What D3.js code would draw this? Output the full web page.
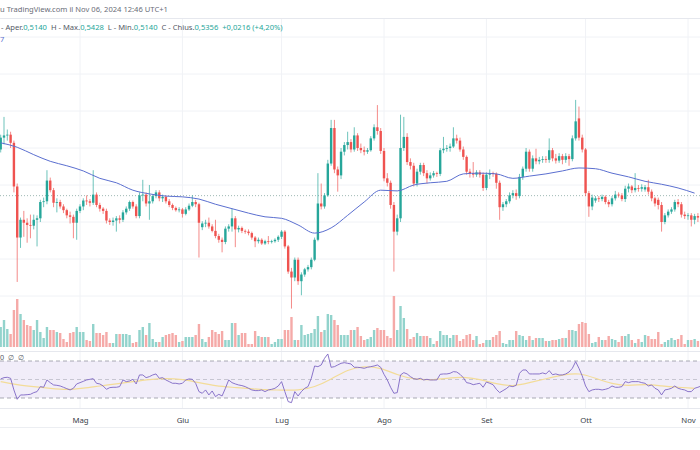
<!DOCTYPE html>
<html><head><meta charset="utf-8">
<script src="https://cdn.jsdelivr.net/npm/d3@7"></script>
<style>
html,body{margin:0;padding:0;background:#fff;}
svg{display:block;}
text{font-family:"Noto Sans","Open Sans",sans-serif;}
</style></head>
<body>
<script>
// ---- DATA (XRP/USD daily) ----
const firstDay = "2024-04-07";
const opens = [0.598,0.614,0.617,0.618,0.607,0.548,0.479,0.503,0.499,0.496,0.495,0.503,0.505,0.527,0.528,0.556,0.543,0.526,0.527,0.521,0.516,0.509,0.507,0.499,0.515,0.521,0.529,0.528,0.526,0.537,0.523,0.518,0.515,0.502,0.500,0.502,0.505,0.503,0.513,0.518,0.527,0.521,0.508,0.536,0.537,0.525,0.528,0.535,0.540,0.532,0.534,0.528,0.523,0.519,0.516,0.517,0.511,0.517,0.522,0.527,0.524,0.493,0.498,0.499,0.494,0.488,0.481,0.476,0.473,0.491,0.494,0.505,0.490,0.492,0.488,0.487,0.485,0.479,0.474,0.476,0.471,0.474,0.473,0.474,0.476,0.480,0.487,0.467,0.433,0.425,0.449,0.420,0.429,0.436,0.439,0.449,0.476,0.525,0.521,0.536,0.579,0.627,0.571,0.563,0.595,0.604,0.608,0.598,0.617,0.600,0.597,0.595,0.597,0.613,0.628,0.623,0.596,0.559,0.553,0.523,0.487,0.505,0.600,0.615,0.581,0.576,0.552,0.568,0.577,0.566,0.559,0.563,0.566,0.565,0.597,0.599,0.600,0.602,0.613,0.610,0.598,0.588,0.568,0.566,0.564,0.567,0.564,0.546,0.564,0.566,0.565,0.553,0.520,0.524,0.528,0.536,0.539,0.535,0.561,0.572,0.595,0.572,0.586,0.582,0.584,0.585,0.584,0.597,0.586,0.583,0.589,0.584,0.589,0.585,0.613,0.640,0.614,0.598,0.539,0.521,0.529,0.532,0.531,0.534,0.527,0.524,0.532,0.537,0.536,0.531,0.545,0.548,0.543,0.546,0.545,0.544,0.547,0.541,0.532,0.530,0.523,0.500,0.509,0.514,0.517,0.527,0.524,0.510,0.508,0.509,0.503,0.508,0.506,0.5140];
const highs = [0.618,0.642,0.625,0.622,0.610,0.552,0.506,0.515,0.505,0.510,0.510,0.509,0.530,0.533,0.570,0.560,0.546,0.532,0.530,0.524,0.518,0.514,0.510,0.518,0.524,0.532,0.536,0.531,0.570,0.540,0.526,0.520,0.518,0.505,0.506,0.508,0.509,0.516,0.521,0.529,0.529,0.524,0.540,0.557,0.540,0.550,0.537,0.543,0.543,0.537,0.536,0.531,0.525,0.521,0.520,0.519,0.520,0.525,0.536,0.530,0.526,0.501,0.503,0.506,0.497,0.503,0.484,0.479,0.494,0.497,0.518,0.508,0.495,0.494,0.490,0.490,0.487,0.481,0.479,0.478,0.476,0.481,0.476,0.478,0.482,0.489,0.489,0.469,0.438,0.452,0.452,0.432,0.438,0.442,0.452,0.479,0.566,0.552,0.539,0.584,0.638,0.638,0.575,0.600,0.608,0.622,0.612,0.628,0.620,0.606,0.602,0.600,0.616,0.632,0.658,0.627,0.600,0.566,0.556,0.527,0.510,0.645,0.642,0.620,0.586,0.580,0.572,0.580,0.580,0.570,0.567,0.569,0.568,0.600,0.615,0.604,0.606,0.628,0.618,0.614,0.602,0.590,0.572,0.581,0.570,0.570,0.567,0.567,0.571,0.568,0.567,0.556,0.527,0.531,0.540,0.543,0.544,0.565,0.575,0.600,0.598,0.590,0.599,0.588,0.589,0.589,0.613,0.600,0.592,0.593,0.592,0.593,0.592,0.617,0.665,0.656,0.618,0.600,0.542,0.537,0.535,0.535,0.537,0.536,0.530,0.535,0.542,0.540,0.539,0.549,0.552,0.550,0.566,0.550,0.551,0.550,0.557,0.544,0.534,0.533,0.527,0.512,0.517,0.520,0.530,0.531,0.527,0.514,0.512,0.512,0.511,0.512,0.517,0.5428];
const lows = [0.594,0.605,0.610,0.600,0.540,0.419,0.465,0.480,0.472,0.478,0.490,0.467,0.500,0.520,0.524,0.540,0.520,0.513,0.518,0.512,0.505,0.498,0.478,0.476,0.512,0.516,0.523,0.521,0.523,0.520,0.514,0.511,0.498,0.496,0.495,0.487,0.498,0.500,0.510,0.515,0.518,0.505,0.505,0.528,0.521,0.503,0.525,0.532,0.528,0.527,0.525,0.520,0.516,0.514,0.513,0.506,0.509,0.515,0.520,0.520,0.452,0.489,0.493,0.491,0.486,0.478,0.472,0.459,0.470,0.487,0.487,0.466,0.486,0.485,0.484,0.482,0.476,0.466,0.471,0.469,0.469,0.470,0.471,0.472,0.473,0.477,0.464,0.430,0.383,0.420,0.415,0.401,0.426,0.433,0.436,0.447,0.474,0.517,0.518,0.534,0.576,0.566,0.541,0.558,0.590,0.598,0.594,0.595,0.596,0.593,0.590,0.592,0.595,0.610,0.618,0.592,0.555,0.548,0.518,0.433,0.482,0.500,0.596,0.577,0.571,0.548,0.548,0.564,0.562,0.552,0.556,0.560,0.561,0.562,0.593,0.595,0.595,0.600,0.606,0.595,0.584,0.564,0.560,0.560,0.561,0.560,0.542,0.543,0.558,0.561,0.545,0.503,0.515,0.520,0.525,0.532,0.530,0.532,0.557,0.568,0.568,0.568,0.578,0.578,0.580,0.580,0.580,0.582,0.579,0.580,0.578,0.580,0.576,0.582,0.610,0.610,0.594,0.535,0.507,0.516,0.526,0.527,0.528,0.524,0.520,0.521,0.529,0.533,0.528,0.527,0.540,0.539,0.540,0.541,0.541,0.541,0.537,0.528,0.521,0.517,0.487,0.497,0.506,0.511,0.514,0.520,0.506,0.504,0.503,0.494,0.497,0.500,0.502,0.5140];
const closes = [0.614,0.617,0.618,0.607,0.548,0.479,0.503,0.499,0.496,0.495,0.503,0.505,0.527,0.528,0.556,0.543,0.526,0.527,0.521,0.516,0.509,0.507,0.499,0.515,0.521,0.529,0.528,0.526,0.537,0.523,0.518,0.515,0.502,0.500,0.502,0.505,0.503,0.513,0.518,0.527,0.521,0.508,0.536,0.537,0.525,0.528,0.535,0.540,0.532,0.534,0.528,0.523,0.519,0.516,0.517,0.511,0.517,0.522,0.527,0.524,0.499,0.498,0.499,0.494,0.488,0.481,0.476,0.473,0.491,0.494,0.505,0.490,0.492,0.488,0.487,0.485,0.479,0.474,0.476,0.471,0.474,0.473,0.474,0.476,0.480,0.487,0.467,0.433,0.425,0.449,0.420,0.429,0.436,0.439,0.449,0.476,0.525,0.521,0.536,0.579,0.627,0.571,0.563,0.595,0.604,0.608,0.598,0.617,0.600,0.597,0.595,0.597,0.613,0.628,0.623,0.596,0.559,0.553,0.523,0.487,0.505,0.600,0.615,0.581,0.576,0.552,0.568,0.577,0.566,0.559,0.563,0.566,0.565,0.597,0.599,0.600,0.602,0.613,0.610,0.598,0.588,0.568,0.566,0.564,0.567,0.564,0.546,0.564,0.566,0.565,0.553,0.520,0.524,0.528,0.536,0.539,0.535,0.561,0.572,0.595,0.572,0.586,0.582,0.584,0.585,0.584,0.597,0.586,0.583,0.589,0.584,0.589,0.585,0.613,0.636,0.614,0.598,0.539,0.521,0.533,0.532,0.531,0.534,0.527,0.524,0.532,0.537,0.536,0.531,0.545,0.548,0.543,0.546,0.545,0.547,0.547,0.541,0.532,0.525,0.523,0.500,0.509,0.514,0.517,0.527,0.524,0.510,0.508,0.509,0.503,0.508,0.506,0.514,0.5356];
const volumes = [20,27,18,13,37,48,33,27,22,21,17,27,15,9,20,17,17,15,14,8,5,14,15,20,15,15,7,6,23,14,14,12,15,4,4,13,13,13,13,12,4,5,17,20,12,24,8,5,5,10,12,13,14,12,5,6,10,10,10,12,23,8,5,10,17,15,13,16,7,7,24,24,12,14,14,3,3,16,11,10,10,10,3,5,8,8,17,17,30,7,7,22,12,13,14,18,31,15,17,33,32,27,22,12,12,12,17,17,20,11,7,8,10,17,19,17,17,11,9,51,17,41,29,18,8,10,14,11,11,11,9,3,6,16,12,12,9,12,12,6,8,12,13,7,11,3,4,7,7,10,12,16,4,3,7,7,16,12,11,7,11,7,9,9,9,6,6,7,7,8,9,9,17,17,16,23,25,24,13,4,5,10,7,7,11,8,7,5,11,11,13,7,4,8,5,12,11,8,8,15,3,5,7,9,7,8,12,3,7,7,8,6,9,11];
const rsiValues = [50.6,52,52.4,51.3,38.7,28.6,33.3,33.3,33.6,34,35.8,36.9,42.3,41.6,49.5,46.6,44.1,43.7,43,41.6,40.1,38.7,40.5,45.2,46.6,48,49.5,50.2,50.9,45.9,45.2,43,39.4,41.2,41.6,41.6,42.3,49.5,47.7,48.4,50.2,45.2,54.9,54.9,52,53.1,54.9,56,51.3,52,49.5,47.7,45.9,45.9,45.2,45.9,49.5,50.6,50.2,45.9,36.9,35.1,38.7,33.3,37.6,31.5,34,32.2,40.5,49.5,46.6,45.2,44.1,43.4,42.3,40.5,38.7,38,38,38.7,36.9,38.7,39.4,40.5,43,47.7,36.9,26.1,25,36.9,32.2,36.9,40.5,42.3,51.3,64.6,63.9,65.7,72.9,77.6,63.2,63.9,65.7,67.5,68.2,67.5,66.8,63.2,63.2,62.8,62.1,63.2,63.9,64.6,65.7,63.2,55.6,49.5,41.6,35.1,35.8,54.9,57.4,56,53.1,50.9,50.2,51.3,49.5,50.2,49.5,49.5,49.5,55.6,56,56,56.7,58.5,58.1,55.6,52,46.6,45.9,44.4,45.2,45.9,41.6,47.3,45.9,44.4,39.4,35.8,38,40.1,43,42.3,43.7,56.7,60.3,60.3,56,56,56,56,57.1,56,59.6,55.2,56,54.9,54.9,56,58.1,62.1,69.3,62.1,53.8,43,36.9,38.7,39.4,39.4,38.7,39.4,40.5,43,41.6,41.6,42.3,47.7,46.6,47.7,47.7,47.7,46.6,45.9,43,44.1,40.5,38.7,33.3,38.7,39.4,40.5,43,40.5,39.4,38.7,36.9,36.9,40.5,41.6,43,49.5];
const maValues = [0.607,0.601,0.591,0.582,0.576,0.569,0.559,0.553,0.543,0.538,0.535,0.534,0.531,0.524,0.518,0.512,0.507,0.505,0.496,0.485,0.492,0.509,0.527,0.543,0.542,0.550,0.553,0.555,0.565,0.566,0.565,0.559,0.562,0.565,0.569,0.573,0.572,0.566,0.561,0.555,0.551,0.546,0.539];
const rsiMaValues = [47.7,44.1,42.3,40.5,38.7,40.5,43,45.2,47.7,50.2,51.3,50.2,46.6,43,41.6,40.5,38.7,38.7,38,41.6,50.2,61,64.6,62.8,54.9,50.2,49.5,51.3,53.1,50.2,45.2,42.3,46.6,50.9,54.9,57.4,51.3,45.2,43,45.2,43,41.6,40.5];
const sampleStep = 5;
const monthLabels = ["Gen","Feb","Mar","Apr","Mag","Giu","Lug","Ago","Set","Ott","Nov","Dic"];
const priceTicks = [0.40,0.45,0.50,0.55,0.60,0.65,0.70,0.75];
const rsiLevels = [70,50,30];
const lastPrice = 0.5356;
const headerLine = "u TradingView.com il Nov 06, 2024 12:46 UTC+1";
const legendParts = [["- Aper.","l"],["0,5140","v"],["  H - Max.","l"],["0,5428","v"],["  L - Min.","l"],["0,5140","v"],["  C - Chius.","l"],["0,5356","v"],["  +0,0216 (+4,20%)","v"]];

// ---- CHART ----
const W = 700, H = 450;
const svg = d3.select("body").append("svg").attr("width", W).attr("height", H);
const t0 = new Date(firstDay + "T00:00:00Z");
const dayOf = i => d3.utcDay.offset(t0, i);

const x = d3.scaleUtc()
  .domain([new Date("2024-05-01T00:00:00Z"), new Date("2024-11-01T00:00:00Z")])
  .range([80, 688]);
const y = d3.scaleLinear().domain([0.40, 0.65]).range([296, 111]);
const yv = d3.scaleLinear().domain([0, 51]).range([347, 296]);
const yr = d3.scaleLinear().domain([30, 70]).range([398, 361]);

const UP = "#26a69a", DN = "#ef5350";
const UPV = "#92d3cc", DNV = "#f5aaa8";
const GRID = "#f0f2f6";

// header
svg.append("text").attr("x", 0).attr("y", 12).attr("font-size", 7.6).attr("fill", "#6a6d78").text(headerLine);
svg.append("line").attr("x1", 0).attr("x2", W).attr("y1", 18.5).attr("y2", 18.5).attr("stroke", "#e6e8ee");

// grid
const monthTicks = x.ticks(d3.utcMonth.every(1));
svg.append("g").selectAll("line").data(monthTicks).join("line")
  .attr("x1", d => x(d)).attr("x2", d => x(d)).attr("y1", 19).attr("y2", 408)
  .attr("stroke", GRID);
svg.append("g").selectAll("line").data(priceTicks).join("line")
  .attr("x1", 0).attr("x2", W).attr("y1", d => y(d)).attr("y2", d => y(d))
  .attr("stroke", GRID);

// legend line
const lg = svg.append("text").attr("x", 1).attr("y", 30).attr("font-size", 7.6);
legendParts.forEach(p => lg.append("tspan").attr("fill", p[1] === "v" ? "#26a69a" : "#555a66").attr("xml:space","preserve").text(p[0]));
svg.append("text").attr("x", 0).attr("y", 42).attr("font-size", 7.6).attr("fill", "#5b6fd0").text("7");

// volume
const idx = d3.range(closes.length);
const bw = 2.4;
svg.append("g").selectAll("rect").data(idx).join("rect")
  .attr("x", i => x(dayOf(i)) - bw / 2).attr("width", bw)
  .attr("y", i => yv(volumes[i])).attr("height", i => yv(0) - yv(volumes[i]))
  .attr("fill", i => closes[i] >= opens[i] ? UPV : DNV);

// last price line
svg.append("line").attr("x1", 0).attr("x2", W).attr("y1", y(lastPrice)).attr("y2", y(lastPrice))
  .attr("stroke", "#9fb8b4").attr("stroke-dasharray", "1,2").attr("stroke-width", 1);

// candles
const cg = svg.append("g");
cg.selectAll("line").data(idx).join("line")
  .attr("x1", i => x(dayOf(i))).attr("x2", i => x(dayOf(i)))
  .attr("y1", i => y(highs[i])).attr("y2", i => y(lows[i]))
  .attr("stroke", i => closes[i] >= opens[i] ? UP : DN).attr("stroke-width", 0.8).attr("stroke-opacity", 0.85);
cg.selectAll("rect").data(idx).join("rect")
  .attr("x", i => x(dayOf(i)) - bw / 2).attr("width", bw)
  .attr("y", i => y(Math.max(opens[i], closes[i])))
  .attr("height", i => Math.max(0.8, Math.abs(y(opens[i]) - y(closes[i]))))
  .attr("fill", i => closes[i] >= opens[i] ? UP : DN);

// moving average
const maLine = d3.line().x((d, k) => x(dayOf(k * sampleStep))).y(d => y(d)).curve(d3.curveMonotoneX);
svg.append("path").datum(maValues).attr("d", maLine).attr("fill", "none")
  .attr("stroke", "#5b6fd0").attr("stroke-width", 1);

// RSI pane
svg.append("line").attr("x1", 0).attr("x2", W).attr("y1", 351.5).attr("y2", 351.5).attr("stroke", "#e6e8ee");
svg.append("rect").attr("x", 0).attr("width", W).attr("y", yr(70)).attr("height", yr(30) - yr(70)).attr("fill", "#f1edf9");
svg.append("g").selectAll("line").data(rsiLevels).join("line")
  .attr("x1", 0).attr("x2", W).attr("y1", d => yr(d)).attr("y2", d => yr(d))
  .attr("stroke", "#8a8d98").attr("stroke-opacity", d => d === 50 ? 0.5 : 0.9)
  .attr("stroke-dasharray", "4,3").attr("stroke-width", 0.8);
const rsiMaLine = d3.line().x((d, k) => x(dayOf(k * sampleStep))).y(d => yr(d)).curve(d3.curveBasis);
svg.append("path").datum(rsiMaValues).attr("d", rsiMaLine).attr("fill", "none")
  .attr("stroke", "#f3dc98").attr("stroke-width", 1.2);
const rsiLine = d3.line().x((d, i) => x(dayOf(i))).y(d => yr(d));
svg.append("path").datum(rsiValues).attr("d", rsiLine).attr("fill", "none")
  .attr("stroke", "#7e67c4").attr("stroke-width", 0.9);
const rl = svg.append("text").attr("x", 0).attr("y", 360).attr("font-size", 7.2).attr("fill", "#555a66");
rl.append("tspan").attr("xml:space","preserve").text("0  ∅  ∅");

// time axis
svg.append("line").attr("x1", 0).attr("x2", W).attr("y1", 408.5).attr("y2", 408.5).attr("stroke", "#e6e8ee");
svg.append("line").attr("x1", 0).attr("x2", W).attr("y1", 427.5).attr("y2", 427.5).attr("stroke", "#eceef2");
const ax = svg.append("g").attr("transform", "translate(0,414)")
  .call(d3.axisBottom(x).tickValues(monthTicks).tickFormat(d => monthLabels[d.getUTCMonth()]).tickSize(0));
ax.select(".domain").remove();
ax.selectAll("text").attr("font-size", 7.8).attr("fill", "#3b3f4a").attr("font-family", "Noto Sans, sans-serif");
</script>
</body></html>
